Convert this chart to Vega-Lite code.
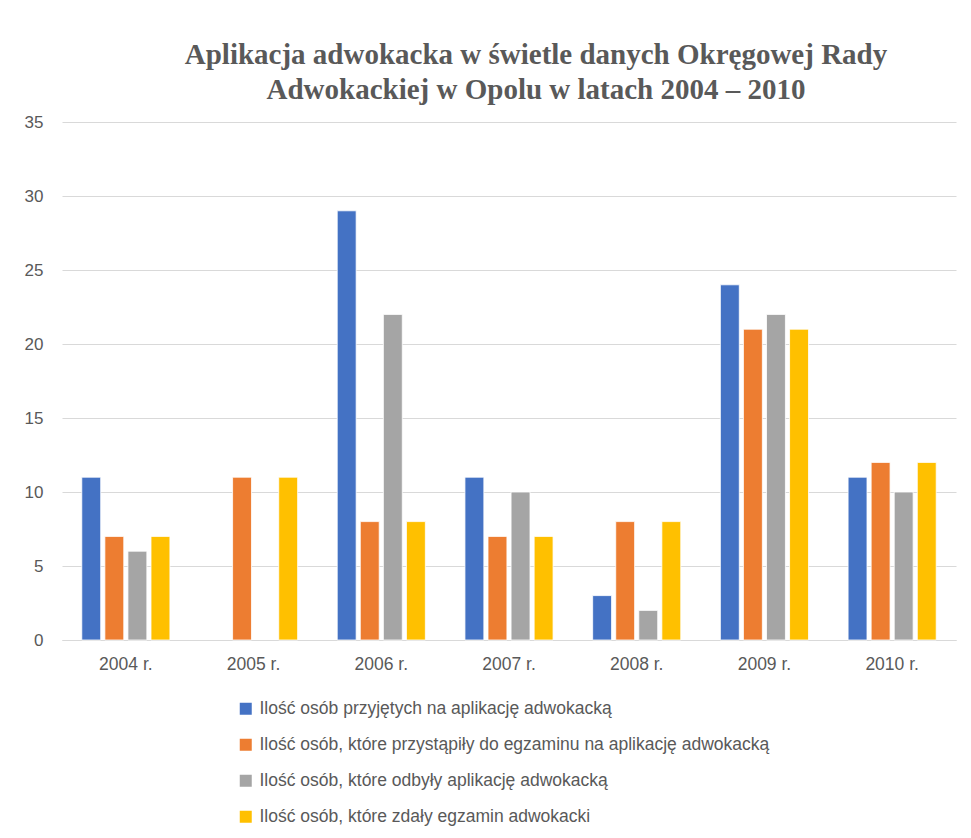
{
  "$schema": "https://vega.github.io/schema/vega-lite/v6.json",
  "autosize": "none",
  "width": 894,
  "height": 518,
  "padding": {"left": 62, "top": 122, "right": 15, "bottom": 198},
  "background": "white",
  "title": {
    "text": ["Aplikacja adwokacka w świetle danych Okręgowej Rady", "Adwokackiej w Opolu w latach 2004 – 2010"],
    "font": "Liberation Serif",
    "fontSize": 29,
    "fontWeight": "bold",
    "color": "#595959",
    "anchor": "middle",
    "dx": 27,
    "offset": 8,
    "lineHeight": 35
  },
  "data": {
    "values": [
      {"rok": "2004 r.", "seria": "Ilość osób przyjętych na aplikację adwokacką", "s": 1, "wartosc": 11},
      {"rok": "2004 r.", "seria": "Ilość osób, które przystąpiły do egzaminu na aplikację adwokacką", "s": 2, "wartosc": 7},
      {"rok": "2004 r.", "seria": "Ilość osób, które odbyły aplikację adwokacką", "s": 3, "wartosc": 6},
      {"rok": "2004 r.", "seria": "Ilość osób, które zdały egzamin adwokacki", "s": 4, "wartosc": 7},
      {"rok": "2005 r.", "seria": "Ilość osób, które przystąpiły do egzaminu na aplikację adwokacką", "s": 2, "wartosc": 11},
      {"rok": "2005 r.", "seria": "Ilość osób, które zdały egzamin adwokacki", "s": 4, "wartosc": 11},
      {"rok": "2006 r.", "seria": "Ilość osób przyjętych na aplikację adwokacką", "s": 1, "wartosc": 29},
      {"rok": "2006 r.", "seria": "Ilość osób, które przystąpiły do egzaminu na aplikację adwokacką", "s": 2, "wartosc": 8},
      {"rok": "2006 r.", "seria": "Ilość osób, które odbyły aplikację adwokacką", "s": 3, "wartosc": 22},
      {"rok": "2006 r.", "seria": "Ilość osób, które zdały egzamin adwokacki", "s": 4, "wartosc": 8},
      {"rok": "2007 r.", "seria": "Ilość osób przyjętych na aplikację adwokacką", "s": 1, "wartosc": 11},
      {"rok": "2007 r.", "seria": "Ilość osób, które przystąpiły do egzaminu na aplikację adwokacką", "s": 2, "wartosc": 7},
      {"rok": "2007 r.", "seria": "Ilość osób, które odbyły aplikację adwokacką", "s": 3, "wartosc": 10},
      {"rok": "2007 r.", "seria": "Ilość osób, które zdały egzamin adwokacki", "s": 4, "wartosc": 7},
      {"rok": "2008 r.", "seria": "Ilość osób przyjętych na aplikację adwokacką", "s": 1, "wartosc": 3},
      {"rok": "2008 r.", "seria": "Ilość osób, które przystąpiły do egzaminu na aplikację adwokacką", "s": 2, "wartosc": 8},
      {"rok": "2008 r.", "seria": "Ilość osób, które odbyły aplikację adwokacką", "s": 3, "wartosc": 2},
      {"rok": "2008 r.", "seria": "Ilość osób, które zdały egzamin adwokacki", "s": 4, "wartosc": 8},
      {"rok": "2009 r.", "seria": "Ilość osób przyjętych na aplikację adwokacką", "s": 1, "wartosc": 24},
      {"rok": "2009 r.", "seria": "Ilość osób, które przystąpiły do egzaminu na aplikację adwokacką", "s": 2, "wartosc": 21},
      {"rok": "2009 r.", "seria": "Ilość osób, które odbyły aplikację adwokacką", "s": 3, "wartosc": 22},
      {"rok": "2009 r.", "seria": "Ilość osób, które zdały egzamin adwokacki", "s": 4, "wartosc": 21},
      {"rok": "2010 r.", "seria": "Ilość osób przyjętych na aplikację adwokacką", "s": 1, "wartosc": 11},
      {"rok": "2010 r.", "seria": "Ilość osób, które przystąpiły do egzaminu na aplikację adwokacką", "s": 2, "wartosc": 12},
      {"rok": "2010 r.", "seria": "Ilość osób, które odbyły aplikację adwokacką", "s": 3, "wartosc": 10},
      {"rok": "2010 r.", "seria": "Ilość osób, które zdały egzamin adwokacki", "s": 4, "wartosc": 12}
    ]
  },
  "mark": {"type": "bar", "stroke": "white", "strokeWidth": 0.8},
  "encoding": {
    "x": {
      "field": "rok",
      "type": "nominal",
      "scale": {"paddingInner": 0.31, "paddingOuter": 0.155},
      "axis": {
        "title": null,
        "labelAngle": 0,
        "labelFont": "Liberation Sans",
        "labelFontSize": 17.5,
        "labelColor": "#595959",
        "labelPadding": 15,
        "ticks": false,
        "domainColor": "#D9D9D9",
        "domainWidth": 1
      }
    },
    "xOffset": {
      "field": "seria",
      "type": "nominal",
      "sort": [
        "Ilość osób przyjętych na aplikację adwokacką",
        "Ilość osób, które przystąpiły do egzaminu na aplikację adwokacką",
        "Ilość osób, które odbyły aplikację adwokacką",
        "Ilość osób, które zdały egzamin adwokacki"
      ],
      "scale": {"paddingInner": 0.18, "paddingOuter": 0}
    },
    "y": {
      "field": "wartosc",
      "type": "quantitative",
      "scale": {"domain": [0, 35]},
      "axis": {
        "title": null,
        "values": [0, 5, 10, 15, 20, 25, 30, 35],
        "labelFont": "Liberation Sans",
        "labelFontSize": 17,
        "labelColor": "#595959",
        "labelPadding": 19,
        "ticks": false,
        "domain": false,
        "gridColor": "#D9D9D9",
        "gridWidth": 1
      }
    },
    "color": {
      "field": "seria",
      "type": "nominal",
      "sort": [
        "Ilość osób przyjętych na aplikację adwokacką",
        "Ilość osób, które przystąpiły do egzaminu na aplikację adwokacką",
        "Ilość osób, które odbyły aplikację adwokacką",
        "Ilość osób, które zdały egzamin adwokacki"
      ],
      "scale": {
        "domain": [
          "Ilość osób przyjętych na aplikację adwokacką",
          "Ilość osób, które przystąpiły do egzaminu na aplikację adwokacką",
          "Ilość osób, które odbyły aplikację adwokacką",
          "Ilość osób, które zdały egzamin adwokacki"
        ],
        "range": ["#4472C4", "#ED7D31", "#A5A5A5", "#FFC000"]
      },
      "legend": {
        "title": null,
        "orient": "none",
        "legendX": 175,
        "legendY": 578,
        "direction": "vertical",
        "symbolType": "square",
        "symbolSize": 144,
        "symbolStrokeWidth": 0,
        "labelFont": "Liberation Sans",
        "labelFontSize": 17.5,
        "labelColor": "#595959",
        "labelLimit": 800,
        "rowPadding": 17,
        "labelOffset": 5
      }
    }
  },
  "config": {
    "view": {"stroke": null}
  }
}
